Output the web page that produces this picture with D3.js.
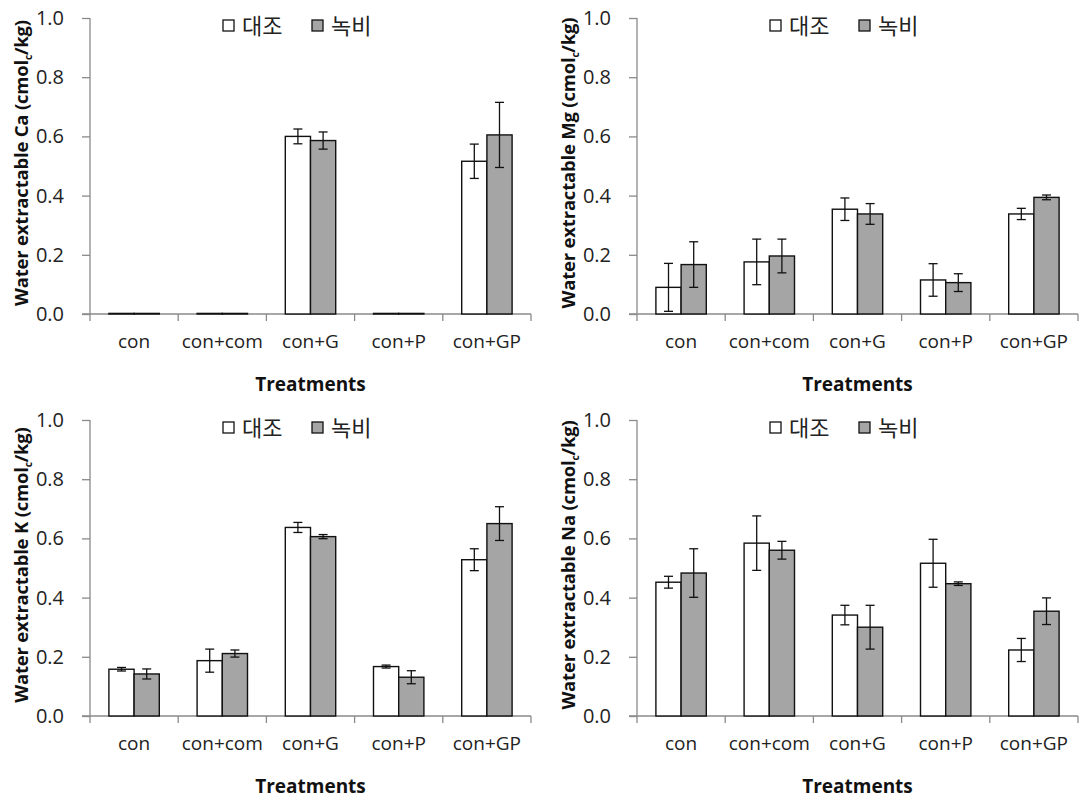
<!DOCTYPE html>
<html><head><meta charset="utf-8">
<script src="https://cdn.jsdelivr.net/npm/d3@7"></script>
<style>body{margin:0;background:#fff}svg{display:block}</style>
</head><body>
<svg id="c" width="1085" height="801"></svg>
<script>
const categories = ["con","con+com","con+G","con+P","con+GP"];
const seriesNames = ["대조","녹비"];
const yTicks = [0,0.2,0.4,0.6,0.8,1.0];

const caControl = [0.002,0.002,0.600,0.002,0.516];
const caControlErr = [0,0,0.025,0,0.058];
const caGreen = [0.002,0.002,0.586,0.002,0.605];
const caGreenErr = [0,0,0.029,0,0.110];

const mgControl = [0.090,0.176,0.354,0.115,0.338];
const mgControlErr = [0.081,0.077,0.038,0.055,0.019];
const mgGreen = [0.167,0.196,0.338,0.106,0.394];
const mgGreenErr = [0.077,0.057,0.035,0.030,0.008];

const kControl = [0.158,0.187,0.637,0.167,0.528];
const kControlErr = [0.006,0.039,0.017,0.005,0.037];
const kGreen = [0.142,0.211,0.606,0.131,0.650];
const kGreenErr = [0.017,0.012,0.007,0.022,0.057];

const naControl = [0.452,0.584,0.341,0.516,0.223];
const naControlErr = [0.020,0.092,0.033,0.081,0.039];
const naGreen = [0.483,0.560,0.300,0.447,0.354];
const naGreenErr = [0.082,0.030,0.074,0.006,0.045];

const panels = [
  {el:"Ca", ox:90, oy:18, vals:[caControl,caGreen], errs:[caControlErr,caGreenErr]},
  {el:"Mg", ox:637, oy:18, vals:[mgControl,mgGreen], errs:[mgControlErr,mgGreenErr]},
  {el:"K", ox:90, oy:420, vals:[kControl,kGreen], errs:[kControlErr,kGreenErr]},
  {el:"Na", ox:637, oy:420, vals:[naControl,naGreen], errs:[naControlErr,naGreenErr]}
];
const W = 441, H = 296;
const fills = ["#ffffff","#a5a5a5"];
const axisColor = "#8a8a8a";
const textColor = "#222";

const svg = d3.select("#c");

panels.forEach(p => {
  const g = svg.append("g").attr("transform",`translate(${p.ox},${p.oy})`);
  const x0 = d3.scaleBand().domain(categories).range([0,W]);
  const bw = x0.bandwidth();
  const pair = bw*2/3.5;
  const x1 = d3.scaleBand().domain(seriesNames).range([(bw-pair)/2,(bw+pair)/2]);
  const y = d3.scaleLinear().domain([0,1]).range([H,0]);

  // y axis
  const ya = g.append("g").call(d3.axisLeft(y).tickValues(yTicks).tickFormat(d3.format(".1f")).tickSize(8).tickPadding(18));
  ya.select(".domain").attr("stroke",axisColor).attr("stroke-width",1.3).attr("d",`M0,${H}V0`);
  ya.selectAll(".tick line").attr("stroke",axisColor).attr("stroke-width",1.3);
  ya.selectAll(".tick text").attr("font-family","'Open Sans', sans-serif").attr("font-size",20).attr("fill",textColor);

  // x axis
  const xa = g.append("g").attr("transform",`translate(0,${H})`)
    .call(d3.axisBottom(x0).tickSize(0).tickPadding(21));
  xa.select(".domain").attr("stroke",axisColor).attr("stroke-width",1.3).attr("d",`M-8,0H${W}`);
  xa.selectAll(".tick text").attr("font-family","'Open Sans', sans-serif").attr("font-size",19).attr("fill",textColor);
  const bounds = categories.map(c=>x0(c)).concat([W]);
  xa.selectAll(".sep").data(bounds).join("line").attr("class","sep")
    .attr("x1",d=>d).attr("x2",d=>d).attr("y1",0).attr("y2",7)
    .attr("stroke",axisColor).attr("stroke-width",1.3);

  // bars
  seriesNames.forEach((s,si) => {
    const data = categories.map((c,i)=>({c, v:p.vals[si][i], e:p.errs[si][i]}));
    g.append("g").selectAll("rect").data(data).join("rect")
      .attr("x",d=>x0(d.c)+x1(s))
      .attr("y",d=>y(d.v))
      .attr("width",x1.bandwidth())
      .attr("height",d=>H-y(d.v))
      .attr("fill",fills[si]).attr("stroke","#111").attr("stroke-width",1.4);
    const eg = g.append("g").attr("stroke","#111").attr("stroke-width",1.3);
    data.filter(d=>d.e>0).forEach(d=>{
      const cx = x0(d.c)+x1(s)+x1.bandwidth()/2;
      eg.append("line").attr("x1",cx).attr("x2",cx).attr("y1",y(d.v+d.e)).attr("y2",y(d.v-d.e));
      eg.append("line").attr("x1",cx-4.5).attr("x2",cx+4.5).attr("y1",y(d.v+d.e)).attr("y2",y(d.v+d.e));
      eg.append("line").attr("x1",cx-4.5).attr("x2",cx+4.5).attr("y1",y(d.v-d.e)).attr("y2",y(d.v-d.e));
    });
  });

  // x title
  g.append("text").attr("x",(x0("con+G")+bw/2)).attr("y",H+77)
    .attr("text-anchor","middle").attr("font-family","'Open Sans', sans-serif")
    .attr("font-weight","bold").attr("font-size",19).attr("fill","#111").text("Treatments");

  // y title
  const yt = g.append("text").attr("transform",`translate(-62,${H/2-3}) rotate(-90)`)
    .attr("text-anchor","middle").attr("font-family","'Open Sans', sans-serif")
    .attr("font-weight","bold").attr("font-size",18.5).attr("fill","#111")
    .attr("letter-spacing","-0.2");
  yt.append("tspan").text(`Water extractable ${p.el} (cmol`);
  yt.append("tspan").attr("font-size",10).attr("dy",4).text("c");
  yt.append("tspan").attr("dy",-4).text("/kg)");

  // legend
  const lg = g.append("g").attr("transform",`translate(133,8)`);
  const lx = [0,89];
  seriesNames.forEach((s,si)=>{
    lg.append("rect").attr("x",lx[si]).attr("y",-6).attr("width",11).attr("height",11)
      .attr("fill",fills[si]).attr("stroke","#111").attr("stroke-width",1.3);
    lg.append("text").attr("x",lx[si]+19).attr("y",0).attr("dy","0.35em")
      .attr("font-family","'Noto Sans CJK KR', sans-serif").attr("font-size",22).attr("fill",textColor).text(s);
  });
});
</script>
</body></html>
